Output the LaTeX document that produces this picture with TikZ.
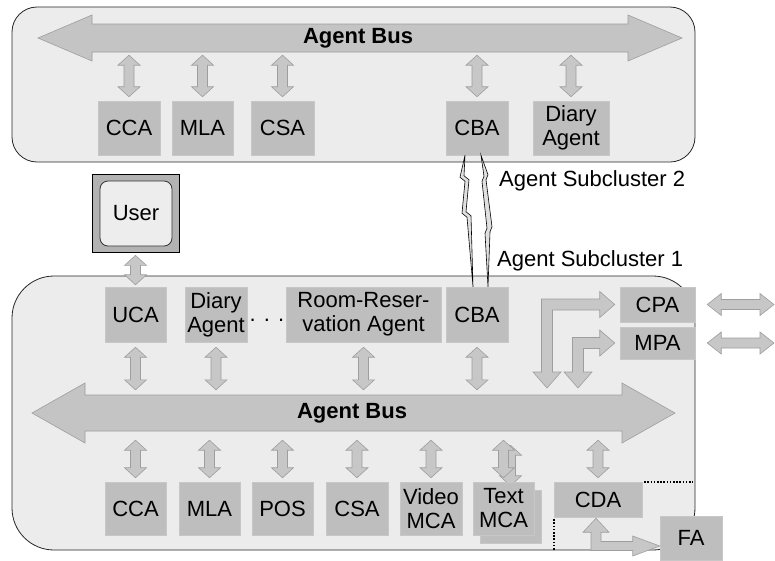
\documentclass[tikz,border=0pt]{standalone}
\usepackage{fontspec}
\setmainfont{Liberation Sans}
\usetikzlibrary{calc,shadows}
\definecolor{clusterfill}{gray}{0.925}
\definecolor{boxfill}{gray}{0.745}
\definecolor{arrfill}{gray}{0.78}
\definecolor{arredge}{gray}{0.62}
\definecolor{busfill}{gray}{0.77}
\tikzset{
 cluster/.style={draw=black!85, line width=0.8pt, fill=clusterfill, inner sep=0pt},
 agent/.style={fill=boxfill, draw=black!22, line width=0.5pt, inner sep=0pt, align=center,
   font=\fontsize{22}{24}\selectfont,
   drop shadow={shadow xshift=1.3pt,shadow yshift=-1.3pt,fill=black!50,opacity=1}},
 dblarr/.style={fill=arrfill, draw=arredge, line width=0.6pt},
 bus/.style={fill=busfill, draw=arredge, line width=0.6pt},
 bolt/.style={fill=black!12, draw=black, line width=0.6pt},
 lbl/.style={font=\fontsize{22}{24}\selectfont, inner sep=0pt},
 dotline/.style={draw=black, line width=1.6pt, dash pattern=on 1.6pt off 1.6pt},
}
% vertical double arrow: #1 top point, #2 bottom point, #3 top gap, #4 bottom gap
\newcommand\ArrV[4]{\path[dblarr] let \p1=#1, \p2=#2 in
 (\x1,\y1-#3pt) -- (\x1+11pt,\y1-#3pt-10pt) -- (\x1+5pt,\y1-#3pt-10pt) --
 (\x1+5pt,\y2+#4pt+10pt) -- (\x1+11pt,\y2+#4pt+10pt) -- (\x1,\y2+#4pt) --
 (\x1-11pt,\y2+#4pt+10pt) -- (\x1-5pt,\y2+#4pt+10pt) -- (\x1-5pt,\y1-#3pt-10pt) --
 (\x1-11pt,\y1-#3pt-10pt) -- cycle;}
% horizontal double arrow: #1 left point, #2 right point, #3 left gap, #4 right gap
\newcommand\ArrH[4]{\path[dblarr] let \p1=#1, \p2=#2 in
 (\x1+#3pt,\y1) -- (\x1+#3pt+14pt,\y1+11pt) -- (\x1+#3pt+14pt,\y1+5pt) --
 (\x2-#4pt-14pt,\y1+5pt) -- (\x2-#4pt-14pt,\y1+11pt) -- (\x2-#4pt,\y1) --
 (\x2-#4pt-14pt,\y1-11pt) -- (\x2-#4pt-14pt,\y1-5pt) -- (\x1+#3pt+14pt,\y1-5pt) --
 (\x1+#3pt+14pt,\y1-11pt) -- cycle;}
% bent double arrow: #1 right tip, #2 bottom tip
\newcommand\ArrRD[2]{\path[dblarr] let \p1=#1, \p2=#2 in
 (\x1,\y1) -- (\x1-15pt,\y1+13pt) -- (\x1-15pt,\y1+5.5pt) -- (\x2-5.5pt,\y1+5.5pt) --
 (\x2-5.5pt,\y2+16pt) -- (\x2-14pt,\y2+16pt) -- (\x2,\y2) -- (\x2+14pt,\y2+16pt) --
 (\x2+5.5pt,\y2+16pt) -- (\x2+5.5pt,\y1-5.5pt) -- (\x1-15pt,\y1-5.5pt) --
 (\x1-15pt,\y1-13pt) -- cycle;}
% bent double arrow: #1 top tip, #2 right tip
\newcommand\ArrUR[2]{\path[dblarr] let \p1=#1, \p2=#2 in
 (\x1,\y1) -- (\x1+13pt,\y1-14pt) -- (\x1+5pt,\y1-14pt) -- (\x1+5pt,\y2+4.5pt) --
 (\x2-27pt,\y2+4.5pt) -- (\x2-27pt,\y2+10pt) -- (\x2,\y2) -- (\x2-27pt,\y2-10pt) --
 (\x2-27pt,\y2-4.5pt) -- (\x1-5pt,\y2-4.5pt) -- (\x1-5pt,\y1-14pt) --
 (\x1-13pt,\y1-14pt) -- cycle;}
\begin{document}
\begin{tikzpicture}[x=1pt,y=-1pt]
\useasboundingbox (0,0) rectangle (775,560);
% clusters
\node[cluster, minimum width=683pt, minimum height=155pt, rounded corners=25pt] (tclu) at (353.5,84.5) {};
\node[cluster, minimum width=683pt, minimum height=274pt, rounded corners=42pt] (bclu) at (353.5,413) {};
% buses
\path[bus] (38,38) -- (92,15) -- (92,24) -- (628,24) -- (628,15) -- (682,38) -- (628,61) -- (628,52) -- (92,52) -- (92,61) -- cycle;
\node[lbl, font=\fontsize{22}{24}\selectfont\bfseries, minimum width=500pt, minimum height=28pt] (tbus) at (358,38) {Agent Bus};
\path[bus] (32,413) -- (85,383) -- (85,395) -- (622,395) -- (622,383) -- (675,413) -- (622,443) -- (622,431) -- (85,431) -- (85,443) -- cycle;
\node[lbl, font=\fontsize{22}{24}\selectfont\bfseries, minimum width=500pt, minimum height=36pt] (bbus) at (352,413) {Agent Bus};
% top agents
\node[agent, minimum width=62pt, minimum height=54pt] (tcca) at (129,128) {CCA};
\node[agent, minimum width=61pt, minimum height=54pt] (tmla) at (202.5,128) {MLA};
\node[agent, minimum width=63pt, minimum height=54pt] (tcsa) at (282.5,128) {CSA};
\node[agent, minimum width=62pt, minimum height=54pt] (tcba) at (477,128) {CBA};
\node[agent, minimum width=76pt, minimum height=54pt] (tdiary) at (571,128) {Diary\\Agent};
\foreach \nd in {tcca,tmla,tcsa,tcba,tdiary} {\ArrV{(tbus.south -| \nd)}{(\nd.north)}{3}{4}}
\node[lbl, anchor=west] (sub2) at (499,181) {Agent Subcluster 2};
\node[lbl, anchor=west] (sub1) at (497,261) {Agent Subcluster 1};
% user
\node[fill=black!30, draw=black, line width=0.8pt, minimum width=87pt, minimum height=78pt, inner sep=0pt] (uframe) at (135.5,213) {};
\node[lbl, fill=black!7, draw=black!80, line width=0.8pt, rounded corners=8pt, minimum width=72pt, minimum height=65pt] (user) at (136,213.5) {User};
% first row of subcluster 1
\node[agent, minimum width=61pt, minimum height=55pt] (uca) at (135.5,314.5) {UCA};
\node[agent, minimum width=62pt, minimum height=55pt] (bdiary) at (216,314.5) {Diary\\Agent};
\node[lbl, anchor=base] (dots) at (267,321) {. . .};
\node[agent, minimum width=155pt, minimum height=55pt] (room) at (363.5,314.5) {Room-Reser-\\vation Agent};
\node[agent, minimum width=62pt, minimum height=55pt] (bcba) at (477,314.5) {CBA};
% links between the CBAs
\path[bolt] ($(tcba.south)+(-12,0)$) -- ++(-5,22) -- ++(5,4) -- ++(-3,32) -- ++(5,4) -- ($(bcba.north)+(-4,0)$) -- ++(-2,-71) -- ++(-5,-4) -- ++(3,-32) -- ++(-5,-4) -- cycle;
\path[bolt] ($(tcba.south)+(4,0)$) -- ++(3,21) -- ++(-2,5) -- ++(5,47) -- ++(-2,5) -- ($(bcba.north)+(11,0)$) -- ++(2,-55) -- ++(2,-5) -- ++(-6,-47) -- ++(2,-5) -- cycle;
\node[agent, minimum width=75pt, minimum height=35pt] (cpa) at (657.5,304.5) {CPA};
\node[agent, minimum width=75pt, minimum height=32pt] (mpa) at (657.5,343) {MPA};
\ArrV{(uframe.south)}{(uca.north)}{3}{2}
\foreach \nd in {uca,bdiary,room,bcba} {\ArrV{(\nd.south)}{(bbus.north -| \nd)}{5}{5}}
\coordinate (cpadown) at (547,388);
\coordinate (mpadown) at (578,388);
\ArrRD{($(cpa.west)+(-5,0)$)}{(cpadown)}
\ArrRD{($(mpa.west)+(-5,0)$)}{(mpadown)}
\coordinate (cpaout) at (774,305);
\coordinate (mpaout) at (774,343);
\ArrH{(cpa.east)}{(cpaout)}{12}{0}
\ArrH{(mpa.east)}{(mpaout)}{12}{0}
% second row of subcluster 1
\node[agent, minimum width=61pt, minimum height=53pt] (bcca) at (135.5,508.5) {CCA};
\node[agent, minimum width=61pt, minimum height=53pt] (bmla) at (209.5,508.5) {MLA};
\node[agent, minimum width=61pt, minimum height=53pt] (pos) at (282.5,508.5) {POS};
\node[agent, minimum width=62pt, minimum height=53pt] (bcsa) at (357,508.5) {CSA};
\node[agent, minimum width=62pt, minimum height=53pt] (video) at (431,508.5) {Video\\MCA};
\node[agent, minimum width=61pt, minimum height=53pt] (textb) at (510.5,516.5) {};
\ArrV{(bbus.south -| textb)}{(textb.north)}{14}{4}
\node[agent, minimum width=61pt, minimum height=53pt] (text) at (503.5,508.5) {Text\\MCA};
\node[agent, minimum width=88pt, minimum height=35pt] (cda) at (598,499.5) {CDA};
\foreach \nd in {bcca,bmla,pos,bcsa,video,text,cda} {\ArrV{(bbus.south -| \nd)}{(\nd.north)}{9}{4}}
\draw[dotline] ($(cda.north east)+(2,0)$) -- ($(cda.north east -| bclu.east)+(-3,0)$);
\draw[dotline] ($(cda.south west)+(0,2)$) -- (cda.south west |- bclu.south);
\node[agent, minimum width=62pt, minimum height=44pt] (fa) at (691,538) {FA};
\ArrUR{($(cda.south)+(-2,1)$)}{($(fa.west)+(0,8)$)}
\end{tikzpicture}
\end{document}
